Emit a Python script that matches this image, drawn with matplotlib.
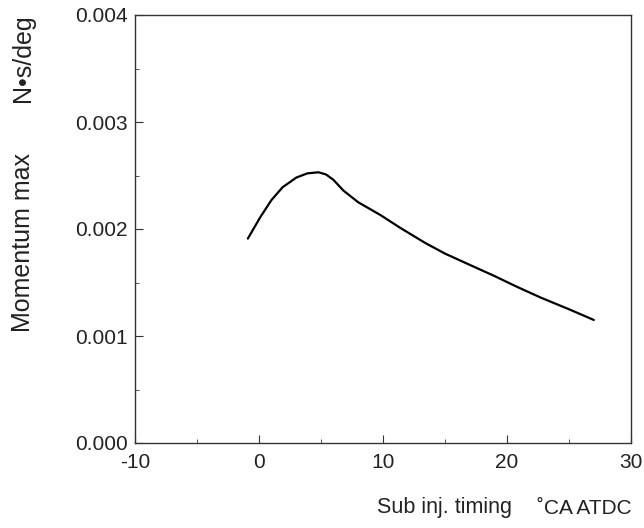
import numpy as np
import matplotlib.pyplot as plt
from matplotlib.ticker import MultipleLocator, FormatStrFormatter

# values
timing = [-0.9, 0.1, 1.0, 1.9, 3.0, 3.9, 4.8, 5.4, 6.0, 6.8, 8.0, 9.8, 11.4, 13.4, 15.0, 16.9, 19.0, 20.8, 22.7, 25.0, 27.0]
momentum = [0.00191, 0.00211, 0.00227, 0.00239, 0.00248, 0.00252, 0.00253, 0.00251, 0.00246, 0.00236, 0.00225, 0.00213, 0.00201, 0.00187, 0.00177, 0.00167, 0.00156, 0.00146, 0.00136, 0.00125, 0.00115]

plt.rcParams['font.family'] = ['Liberation Sans', 'DejaVu Sans']
plt.rcParams['axes.unicode_minus'] = False

fig = plt.figure(figsize=(6.44, 5.28), dpi=100)
ax = fig.add_axes([135 / 644, 1 - 443 / 528, 496 / 644, 428 / 528])

ax.plot(timing, momentum, color='black', lw=1.6, solid_capstyle='round')

ax.set_xlim(-10, 30)
ax.set_ylim(0, 0.004)
ax.xaxis.set_major_locator(MultipleLocator(10))
ax.xaxis.set_minor_locator(MultipleLocator(5))
ax.yaxis.set_major_locator(MultipleLocator(0.001))
ax.yaxis.set_minor_locator(MultipleLocator(0.0005))
ax.yaxis.set_major_formatter(FormatStrFormatter('%.3f'))
ax.tick_params(which='both', direction='in', labelsize=15, color='#333333', labelcolor='#222222')
ax.tick_params(axis='y', which='major', length=6, pad=5)
ax.tick_params(axis='x', which='major', length=6, pad=7)
ax.tick_params(which='minor', length=3)
for s in ax.spines.values():
    s.set_linewidth(1.0)
    s.set_color('#333333')

fig.text(23 / 644, 1 - 332 / 528, 'Momentum max', rotation=90,
         ha='center', va='bottom', fontsize=18, color='#222222')
fig.text(23 / 644, 1 - 14 / 528, 'N\u2022s/deg', rotation=90,
         ha='center', va='top', fontsize=18, color='#222222')
fig.text(512 / 644, 1 - 508 / 528, 'Sub inj. timing',
         ha='right', va='center', fontsize=15.5, color='#222222')
fig.text(632 / 644, 1 - 508 / 528, '\u02daCA ATDC',
         ha='right', va='center', fontsize=15, color='#222222')

fig.savefig('out.png', dpi=100)
